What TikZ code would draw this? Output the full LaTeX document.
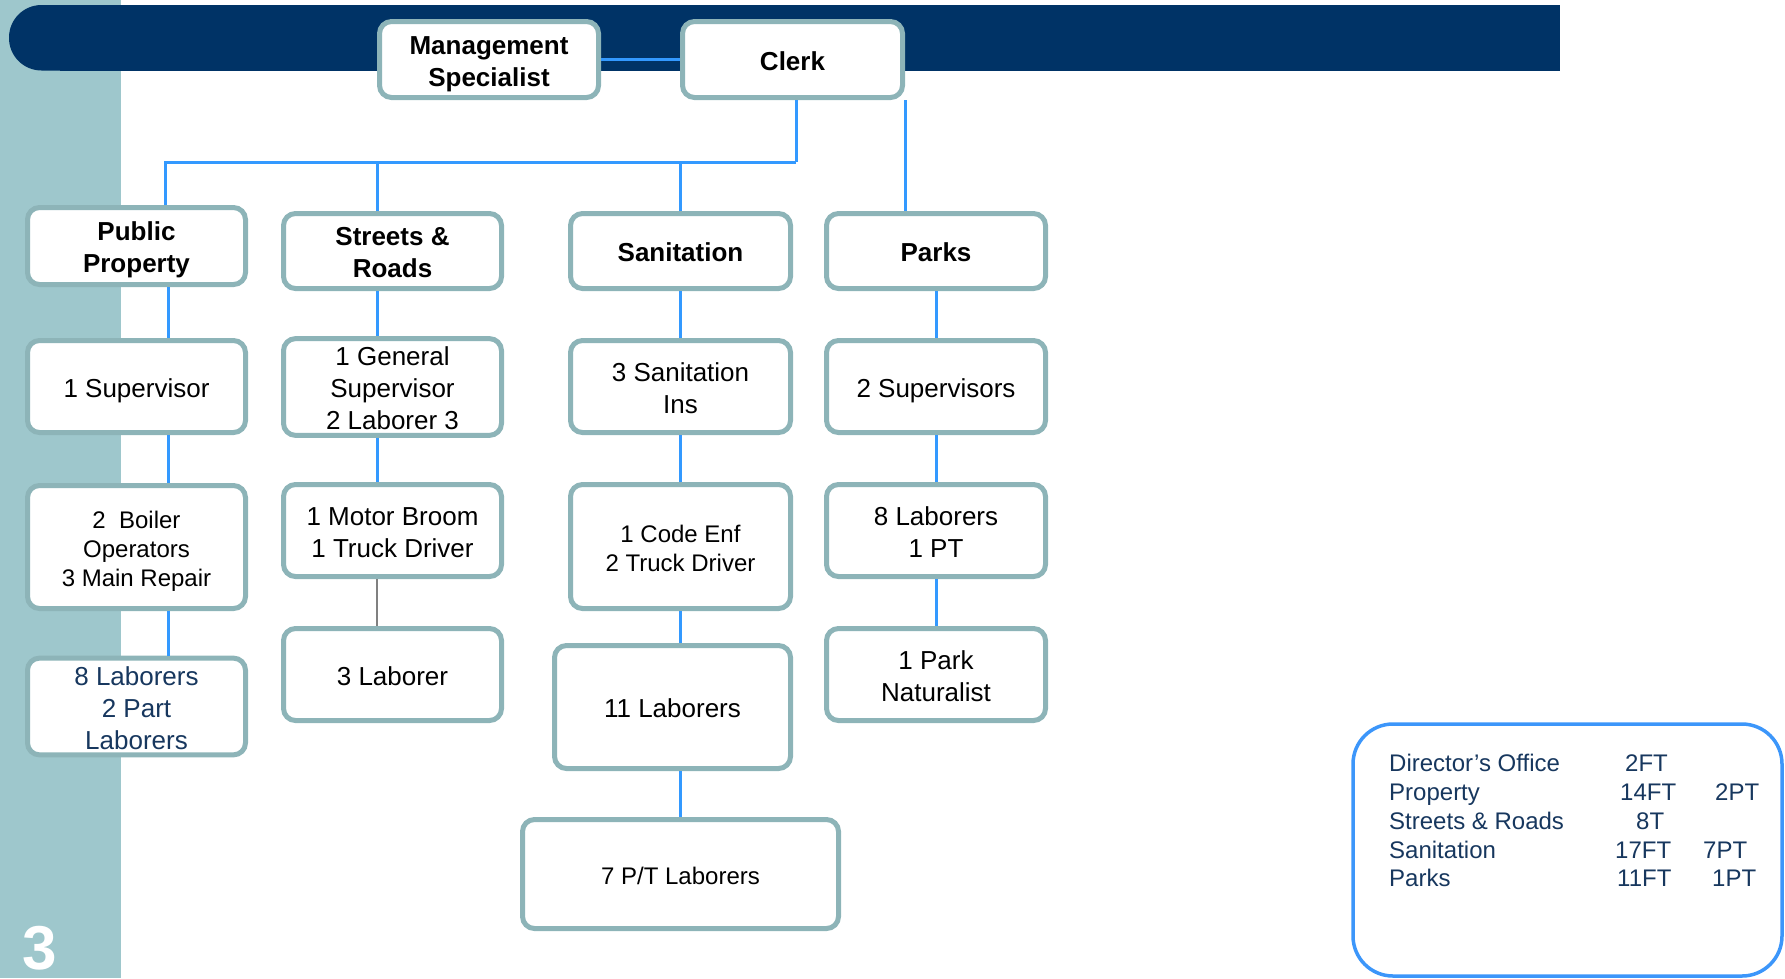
\documentclass[tikz,border=0pt]{standalone}
\usepackage{fontspec}
\setmainfont{Liberation Sans}
\definecolor{stripc}{RGB}{158,199,204}
\definecolor{navy}{RGB}{0,51,102}
\definecolor{boxc}{RGB}{141,180,184}
\definecolor{connc}{RGB}{51,153,255}
\definecolor{legc}{RGB}{23,55,94}
\definecolor{legbox}{RGB}{60,150,250}
\newcommand{\topstr}{\rule{0pt}{1.05em}}
\newcommand{\botstr}{\rule[-0.21em]{0pt}{0.21em}}
\begin{document}
\begin{tikzpicture}[x=1pt,y=-1pt,
 box/.style={draw=boxc, line width=5pt, fill=white, rounded corners=12pt, align=center, inner sep=0pt, font=\fontsize{26}{32}\selectfont, text=black,
   execute at begin node={\topstr},
   execute at end node={\botstr}},
 head/.style={box, font=\fontsize{26}{32}\selectfont\bfseries},
 smallbox/.style={box, font=\fontsize{24}{29}\selectfont},
 conn/.style={draw=connc, line width=3pt},
 grayconn/.style={draw=gray, line width=2.5pt},
 leg/.style={text=legc, font=\fontsize{24}{28}\selectfont, inner sep=0pt}]
\useasboundingbox (0,0) rectangle (1785,978);
% background
\fill[stripc] (0,0) rectangle (121,978);
\fill[navy, rounded corners=32.5pt] (9,5) rectangle (120,70.5);
\fill[navy] (60,5) rectangle (1560,70.5);
% nodes
\node[head, minimum width=219, minimum height=76] (mgmt) at (489,59.5) {\topstr Management\\Specialist\botstr};
\node[head, minimum width=220, minimum height=76] (clerk) at (792.5,59.5) {Clerk};
\node[head, minimum width=218, minimum height=77] (pp) at (136.5,246) {\topstr Public\\Property\botstr};
\node[head, minimum width=218, minimum height=75] (streets) at (392.5,251) {\topstr Streets \&\\Roads\botstr};
\node[head, minimum width=220, minimum height=75] (sanit) at (680.5,251) {Sanitation};
\node[head, minimum width=219, minimum height=75] (parks) at (936,251) {Parks};
\node[box, minimum width=218, minimum height=92] (sup1) at (136.5,386.5) {1 Supervisor};
\node[box, minimum width=218, minimum height=93] (gensup) at (392.5,387) {\topstr 1 General\\Supervisor\\2 Laborer 3\botstr};
\node[box, minimum width=220, minimum height=92] (sanins) at (680.5,386.5) {\topstr 3 Sanitation\\Ins\botstr};
\node[box, minimum width=219, minimum height=92] (sup2) at (936,386.5) {2 Supervisors};
\node[smallbox, minimum width=218, minimum height=123] (boiler) at (136.5,547) {\topstr 2\ \ Boiler\\Operators\\3 Main Repair\botstr};
\node[box, minimum width=218, minimum height=92] (motor) at (392.5,530.5) {\topstr 1 Motor Broom\\1 Truck Driver\botstr};
\node[smallbox, minimum width=220, minimum height=124] (codeenf) at (680.5,546.5) {\topstr 1 Code Enf\\2 Truck Driver\botstr};
\node[box, minimum width=219, minimum height=92] (lab8pt) at (936,530.5) {\topstr 8 Laborers\\1 PT\botstr};
\node[box, text=legc, minimum width=218, minimum height=92] (lab8blue) at (136.5,706.5) {\topstr 8 Laborers\\2 Part\\Laborers\botstr};
\node[box, minimum width=218, minimum height=92] (lab3) at (392.5,674.5) {3 Laborer};
\node[box, minimum width=236, minimum height=123] (lab11) at (672.5,707) {11 Laborers};
\node[box, minimum width=219, minimum height=92] (natur) at (936,674.5) {\topstr 1 Park\\Naturalist\botstr};
\node[smallbox, minimum width=316, minimum height=109] (pt7) at (680.5,874) {7 P/T Laborers};
% connectors
\coordinate (busR) at (796,162);
\draw[conn] (mgmt.east) -- (clerk.west);
\draw[conn] (clerk.south -| busR) -- (busR);
\draw[conn] (busR) -| ([xshift=28.5]pp.north);
\draw[conn] ([xshift=-15.5]streets.north) |- (busR);
\draw[conn] (sanit.north) |- (busR);
\draw[conn] (clerk.south east) -- (clerk.south east |- parks.north);
\draw[conn] ([xshift=31.5]pp.south) -- ([xshift=31.5]sup1.north);
\draw[conn] ([xshift=31.5]sup1.south) -- ([xshift=31.5]boiler.north);
\draw[conn] ([xshift=31.5]boiler.south) -- ([xshift=31.5]lab8blue.north);
\draw[conn] ([xshift=-15.5]streets.south) -- ([xshift=-15.5]gensup.north);
\draw[conn] ([xshift=-15.5]gensup.south) -- ([xshift=-15.5]motor.north);
\draw[grayconn] ([xshift=-15.5]motor.south) -- ([xshift=-15.5]lab3.north);
\draw[conn] (sanit.south) -- (sanins.north);
\draw[conn] (sanins.south) -- (codeenf.north);
\draw[conn] (codeenf.south) -- (codeenf.south |- lab11.north);
\draw[conn] (pt7.north |- lab11.south) -- (pt7.north);
\draw[conn] (parks.south) -- (sup2.north);
\draw[conn] (sup2.south) -- (lab8pt.north);
\draw[conn] (lab8pt.south) -- (natur.north);
% legend
\draw[legbox, line width=3.5pt, rounded corners=40pt] (1353,724) rectangle (1782,976);
\node[leg, anchor=base west] (l1) at (1389,771) {Director’s Office};
\node[leg, anchor=base west] (l1v) at (1625,771) {2FT};
\node[leg, anchor=base west] (l2) at (1389,800) {Property};
\node[leg, anchor=base west] (l2v) at (1620,800) {14FT};
\node[leg, anchor=base west] (l2p) at (1715,800) {2PT};
\node[leg, anchor=base west] (l3) at (1389,829) {Streets \& Roads};
\node[leg, anchor=base west] (l3v) at (1636,829) {8T};
\node[leg, anchor=base west] (l4) at (1389,858) {Sanitation};
\node[leg, anchor=base west] (l4v) at (1615,858) {17FT};
\node[leg, anchor=base west] (l4p) at (1703,858) {7PT};
\node[leg, anchor=base west] (l5) at (1389,886) {Parks};
\node[leg, anchor=base west] (l5v) at (1617,886) {11FT};
\node[leg, anchor=base west] (l5p) at (1712,886) {1PT};
% page number
\node[anchor=base west, text=white, font=\fontsize{62}{62}\selectfont\bfseries, inner sep=0pt] (pg) at (22,969) {3};
\end{tikzpicture}
\end{document}
